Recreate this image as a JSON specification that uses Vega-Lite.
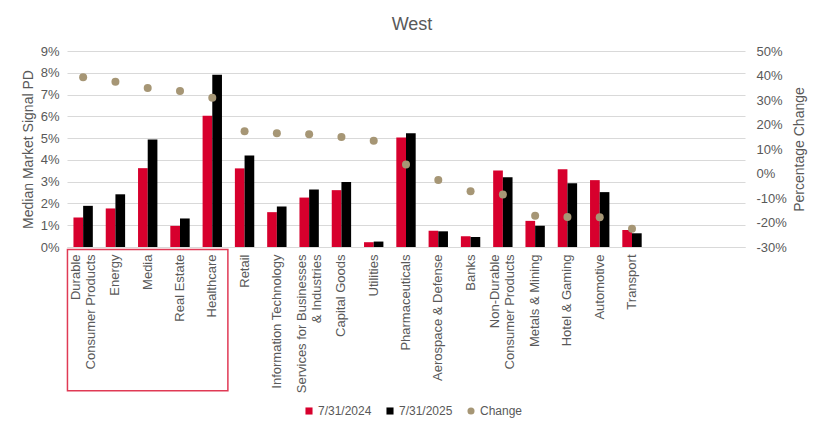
{
  "$schema": "https://vega.github.io/schema/vega-lite/v6.json",
  "width": 678,
  "height": 196,
  "autosize": {"type": "none"},
  "padding": {"left": 67, "top": 51, "right": 80, "bottom": 186},
  "background": "white",
  "title": {"text": "West", "fontSize": 18, "font": "Liberation Sans", "fontWeight": "normal", "color": "#595959", "anchor": "middle", "offset": 11, "dx": 6},
  "config": {
    "view": {"stroke": null},
    "font": "Liberation Sans",
    "axis": {"labelFont": "Liberation Sans", "titleFont": "Liberation Sans", "labelColor": "#595959", "titleColor": "#595959", "labelFontSize": 13, "titleFontSize": 14, "titleFontWeight": "normal", "ticks": false, "domain": false, "grid": false}
  },
  "data": {"values": [
    {"category": "Durable Consumer Products", "7/31/2024": 0.0135, "7/31/2025": 0.0189, "change": 0.393},
    {"category": "Energy", "7/31/2024": 0.0177, "7/31/2025": 0.0242, "change": 0.375},
    {"category": "Media", "7/31/2024": 0.0362, "7/31/2025": 0.0494, "change": 0.349},
    {"category": "Real Estate", "7/31/2024": 0.0097, "7/31/2025": 0.0131, "change": 0.337},
    {"category": "Healthcare", "7/31/2024": 0.0603, "7/31/2025": 0.0791, "change": 0.309},
    {"category": "Retail", "7/31/2024": 0.0361, "7/31/2025": 0.042, "change": 0.172},
    {"category": "Information Technology", "7/31/2024": 0.016, "7/31/2025": 0.0186, "change": 0.164},
    {"category": "Services for Businesses & Industries", "7/31/2024": 0.0227, "7/31/2025": 0.0264, "change": 0.16},
    {"category": "Capital Goods", "7/31/2024": 0.0261, "7/31/2025": 0.0299, "change": 0.149},
    {"category": "Utilities", "7/31/2024": 0.0022, "7/31/2025": 0.0025, "change": 0.134},
    {"category": "Pharmaceuticals", "7/31/2024": 0.0503, "7/31/2025": 0.0522, "change": 0.037},
    {"category": "Aerospace & Defense", "7/31/2024": 0.0075, "7/31/2025": 0.0072, "change": -0.027},
    {"category": "Banks", "7/31/2024": 0.0049, "7/31/2025": 0.0046, "change": -0.072},
    {"category": "Non-Durable Consumer Products", "7/31/2024": 0.0351, "7/31/2025": 0.032, "change": -0.086},
    {"category": "Metals & Mining", "7/31/2024": 0.012, "7/31/2025": 0.0098, "change": -0.172},
    {"category": "Hotel & Gaming", "7/31/2024": 0.0357, "7/31/2025": 0.0293, "change": -0.178},
    {"category": "Automotive", "7/31/2024": 0.0307, "7/31/2025": 0.0252, "change": -0.179},
    {"category": "Transport", "7/31/2024": 0.0078, "7/31/2025": 0.0063, "change": -0.225}
  ]},
  "encoding": {
    "x": {
      "field": "category", "type": "nominal", "sort": null,
      "scale": {"domain": ["Durable Consumer Products", "Energy", "Media", "Real Estate", "Healthcare", "Retail", "Information Technology", "Services for Businesses & Industries", "Capital Goods", "Utilities", "Pharmaceuticals", "Aerospace & Defense", "Banks", "Non-Durable Consumer Products", "Metals & Mining", "Hotel & Gaming", "Automotive", "Transport", " ", "  ", "   "], "paddingInner": 0.4, "paddingOuter": 0.2},
      "axis": {"title": null, "labelAngle": -90, "labelAlign": "right", "labelBaseline": "middle", "labelPadding": 7, "domain": true, "domainColor": "#D9D9D9", "labelLineHeight": 15, "labelLimit": 250,
        "labelOffset": {"condition": {"test": "datum.value == 'Durable Consumer Products' || datum.value == 'Services for Businesses & Industries' || datum.value == 'Non-Durable Consumer Products'", "value": -7.5}, "value": 0},
        "labelExpr": "datum.value == 'Durable Consumer Products' ? ['Durable', 'Consumer Products'] : datum.value == 'Services for Businesses & Industries' ? ['Services for Businesses', '& Industries'] : datum.value == 'Non-Durable Consumer Products' ? ['Non-Durable', 'Consumer Products'] : datum.label"}
    }
  },
  "layer": [
    {
      "layer": [
        {
          "transform": [{"fold": ["7/31/2024", "7/31/2025"], "as": ["series", "pd"]}],
          "mark": {"type": "bar"},
          "encoding": {
            "xOffset": {"field": "series", "type": "nominal", "scale": {"paddingInner": 0}},
            "y": {"field": "pd", "type": "quantitative", "scale": {"domain": [0, 0.09]},
              "axis": {"title": "Median Market Signal PD", "format": ".0%", "values": [0, 0.01, 0.02, 0.03, 0.04, 0.05, 0.06, 0.07, 0.08, 0.09], "labelOverlap": false, "grid": true, "gridColor": "#D9D9D9", "labelPadding": 8, "titlePadding": 5}},
            "color": {"field": "series", "type": "nominal",
              "scale": {"domain": ["7/31/2024", "7/31/2025", "Change"], "range": ["#D7002D", "#000000", "#A69675"]},
              "legend": {"title": null, "orient": "none", "direction": "horizontal", "legendX": 236, "legendY": 354, "labelFont": "Liberation Sans", "labelFontSize": 12, "labelColor": "#595959", "symbolSize": 50, "symbolStrokeWidth": 0, "columnPadding": 12, "labelOffset": 3,
                "encode": {"symbols": {"update": {"shape": {"signal": "datum.value === 'Change' ? 'circle' : 'square'"}}}}}}
          }
        },
        {
          "data": {"values": [{"start": "Durable Consumer Products", "end": "Retail", "top": -0.0012, "bottom": -0.0660}]},
          "mark": {"type": "rect", "fill": null, "stroke": "#E03A55", "strokeWidth": 1.5, "xOffset": -6, "x2Offset": -7},
          "encoding": {
            "x": {"field": "start", "type": "nominal", "bandPosition": 0},
            "x2": {"field": "end", "bandPosition": 0},
            "y": {"field": "top", "type": "quantitative", "scale": {"domain": [0, 0.09]},
              "axis": {"title": "Median Market Signal PD", "format": ".0%", "values": [0, 0.01, 0.02, 0.03, 0.04, 0.05, 0.06, 0.07, 0.08, 0.09], "labelOverlap": false, "grid": true, "gridColor": "#D9D9D9", "labelPadding": 8, "titlePadding": 5}},
            "y2": {"field": "bottom"}
          }
        }
      ]
    },
    {
      "mark": {"type": "point", "filled": true, "size": 64, "opacity": 1},
      "encoding": {
        "y": {"field": "change", "type": "quantitative", "scale": {"domain": [-0.3, 0.5]},
          "axis": {"orient": "right", "title": "Percentage Change", "titleAngle": 270, "titleBaseline": "top", "format": ".0%", "labelExpr": "replace(datum.label, '\u2212', '-')", "values": [-0.3, -0.2, -0.1, 0, 0.1, 0.2, 0.3, 0.4, 0.5], "labelOverlap": false, "labelPadding": 11, "titlePadding": 6}},
        "color": {"datum": "Change"}
      }
    }
  ],
  "resolve": {"scale": {"y": "independent"}}
}
